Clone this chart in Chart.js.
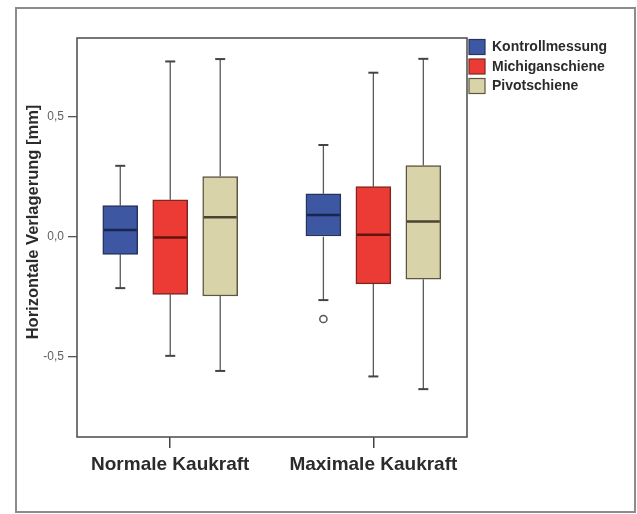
<!DOCTYPE html>
<html>
<head>
<meta charset="utf-8">
<script src="https://cdn.jsdelivr.net/npm/chart.js@4"></script>
<style>
  html, body { margin: 0; padding: 0; background: #ffffff; }
  canvas { display: block; }
</style>
</head>
<body>
<canvas id="c" width="637" height="514"></canvas>
<script>
// Categories and groups
const categories = ['Normale Kaukraft', 'Maximale Kaukraft'];
const seriesNames = ['Kontrollmessung', 'Michiganschiene', 'Pivotschiene'];

// Five-number summaries per category: [min, Q1, median, Q3, max]
const kontrollmessung = [[-0.215, -0.074, 0.028, 0.130, 0.296], [-0.265, 0.000, 0.091, 0.179, 0.383]];
const michiganschiene = [[-0.498, -0.241, -0.003, 0.154, 0.732], [-0.584, -0.197, 0.008, 0.209, 0.685]];
const pivotschiene    = [[-0.561, -0.248, 0.081, 0.251, 0.742], [-0.637, -0.178, 0.063, 0.297, 0.743]];

// Outliers per category
const kontrollAusreisser = [[], [-0.344]];
const michiganAusreisser = [[], []];
const pivotAusreisser    = [[], []];

// Axis ticks
const yTickValues = [-0.5, 0, 0.5];
const categoryPositions = [0, 1];

const summaries = [kontrollmessung, michiganschiene, pivotschiene];
const outliers = [kontrollAusreisser, michiganAusreisser, pivotAusreisser];

const fills   = ['#3d57a3', '#ec3a34', '#d9d3aa'];
const edges   = ['#26335c', '#7c2822', '#5c5642'];
const medians = ['#1a2650', '#641410', '#4a4430'];
const groupOffset = 0.246;
const FONT = '"Liberation Sans", Arial, sans-serif';

const datasets = seriesNames.map((name, s) => ({
  label: name,
  data: categoryPositions.map((c, i) => ({
    x: c + (s - 1) * groupOffset,
    y: [summaries[s][i][1], summaries[s][i][3]]
  })),
  backgroundColor: fills[s],
  borderColor: edges[s],
  borderWidth: 1.5,
  borderSkipped: false,
  barThickness: 35,
  grouped: false,
  stats: summaries[s],
  extremes: outliers[s],
  medianColor: medians[s]
}));

// Whiskers, medians, outliers, frames, axis title and legend
const boxplotPlugin = {
  id: 'boxplot',
  beforeDatasetsDraw(chart) {
    const ctx = chart.ctx, ys = chart.scales.y;
    ctx.save();
    chart.data.datasets.forEach((ds, d) => {
      const meta = chart.getDatasetMeta(d);
      meta.data.forEach((bar, i) => {
        const st = ds.stats[i];
        const x = bar.x;
        ctx.strokeStyle = '#5a5a5a';
        ctx.lineWidth = 1.3;
        ctx.beginPath();
        ctx.moveTo(x, ys.getPixelForValue(st[4]));
        ctx.lineTo(x, ys.getPixelForValue(st[3]));
        ctx.moveTo(x, ys.getPixelForValue(st[1]));
        ctx.lineTo(x, ys.getPixelForValue(st[0]));
        ctx.stroke();
        ctx.lineWidth = 2;
        ctx.strokeStyle = '#444444';
        [st[0], st[4]].forEach(v => {
          const py = ys.getPixelForValue(v);
          ctx.beginPath();
          ctx.moveTo(x - 5, py);
          ctx.lineTo(x + 5, py);
          ctx.stroke();
        });
      });
    });
    ctx.restore();
  },
  afterDatasetsDraw(chart) {
    const ctx = chart.ctx, ys = chart.scales.y;
    ctx.save();
    chart.data.datasets.forEach((ds, d) => {
      const meta = chart.getDatasetMeta(d);
      meta.data.forEach((bar, i) => {
        const st = ds.stats[i];
        const half = bar.width / 2;
        const py = ys.getPixelForValue(st[2]);
        ctx.strokeStyle = ds.medianColor;
        ctx.lineWidth = 2.5;
        ctx.beginPath();
        ctx.moveTo(bar.x - half + 1, py);
        ctx.lineTo(bar.x + half - 1, py);
        ctx.stroke();
        ds.extremes[i].forEach(v => {
          ctx.strokeStyle = '#555555';
          ctx.lineWidth = 1.5;
          ctx.fillStyle = '#ffffff';
          ctx.beginPath();
          ctx.arc(bar.x, ys.getPixelForValue(v), 3.6, 0, Math.PI * 2);
          ctx.fill();
          ctx.stroke();
        });
      });
    });
    ctx.restore();
  },
  afterDraw(chart) {
    const ctx = chart.ctx, a = chart.chartArea;
    ctx.save();
    // outer frame
    ctx.strokeStyle = '#8c8c8c';
    ctx.lineWidth = 2;
    ctx.strokeRect(16, 8, 619, 504);
    // plot frame
    ctx.strokeStyle = '#4a4a4a';
    ctx.lineWidth = 1.5;
    ctx.strokeRect(a.left, a.top, a.right - a.left, a.bottom - a.top);
    // y axis title
    ctx.translate(33, 222);
    ctx.rotate(-Math.PI / 2);
    ctx.fillStyle = '#2b2b2b';
    ctx.font = 'bold 16.5px ' + FONT;
    ctx.textAlign = 'center';
    ctx.textBaseline = 'middle';
    ctx.fillText('Horizontale Verlagerung [mm]', 0, 0);
    ctx.restore();

    // legend
    ctx.save();
    ctx.font = 'bold 14px ' + FONT;
    ctx.textBaseline = 'middle';
    ctx.textAlign = 'left';
    chart.data.datasets.forEach((ds, d) => {
      const cy = 47 + d * 19.5;
      ctx.fillStyle = ds.backgroundColor;
      ctx.fillRect(469, cy - 7.5, 16, 15);
      ctx.strokeStyle = ds.borderColor;
      ctx.lineWidth = 1.2;
      ctx.strokeRect(469, cy - 7.5, 16, 15);
      ctx.fillStyle = '#2b2b2b';
      ctx.fillText(ds.label, 492, cy + 0.5);
    });
    ctx.restore();
  }
};

new Chart(document.getElementById('c'), {
  type: 'bar',
  data: { datasets },
  options: {
    responsive: false,
    animation: false,
    devicePixelRatio: 1,
    layout: { padding: { top: 38, right: 170, bottom: 0, left: 0 } },
    plugins: { legend: { display: false }, tooltip: { enabled: false } },
    scales: {
      x: {
        type: 'linear',
        offset: false,
        min: -0.459,
        max: 1.461,
        afterFit(scale) { scale.height = 77; },
        afterBuildTicks(scale) { scale.ticks = categoryPositions.map(v => ({ value: v })); },
        border: { display: false },
        grid: { offset: false, drawOnChartArea: false, drawTicks: true, tickLength: 11, color: '#444444', lineWidth: 1.5 },
        ticks: {
          autoSkip: false,
          maxRotation: 0,
          padding: 5,
          color: '#2b2b2b',
          font: { family: FONT, size: 19, weight: 'bold' },
          callback: v => categories[categoryPositions.indexOf(v)]
        }
      },
      y: {
        type: 'linear',
        min: -0.837,
        max: 0.830,
        afterFit(scale) { scale.width = 77; },
        afterBuildTicks(scale) { scale.ticks = yTickValues.map(v => ({ value: v })); },
        border: { display: false },
        grid: { drawOnChartArea: false, drawTicks: true, tickLength: 9, color: '#555555', lineWidth: 1.3 },
        ticks: {
          padding: 4,
          color: '#606060',
          font: { family: FONT, size: 12 },
          callback: v => v.toFixed(1).replace('.', ',')
        }
      }
    }
  },
  plugins: [boxplotPlugin]
});
</script>
</body>
</html>
